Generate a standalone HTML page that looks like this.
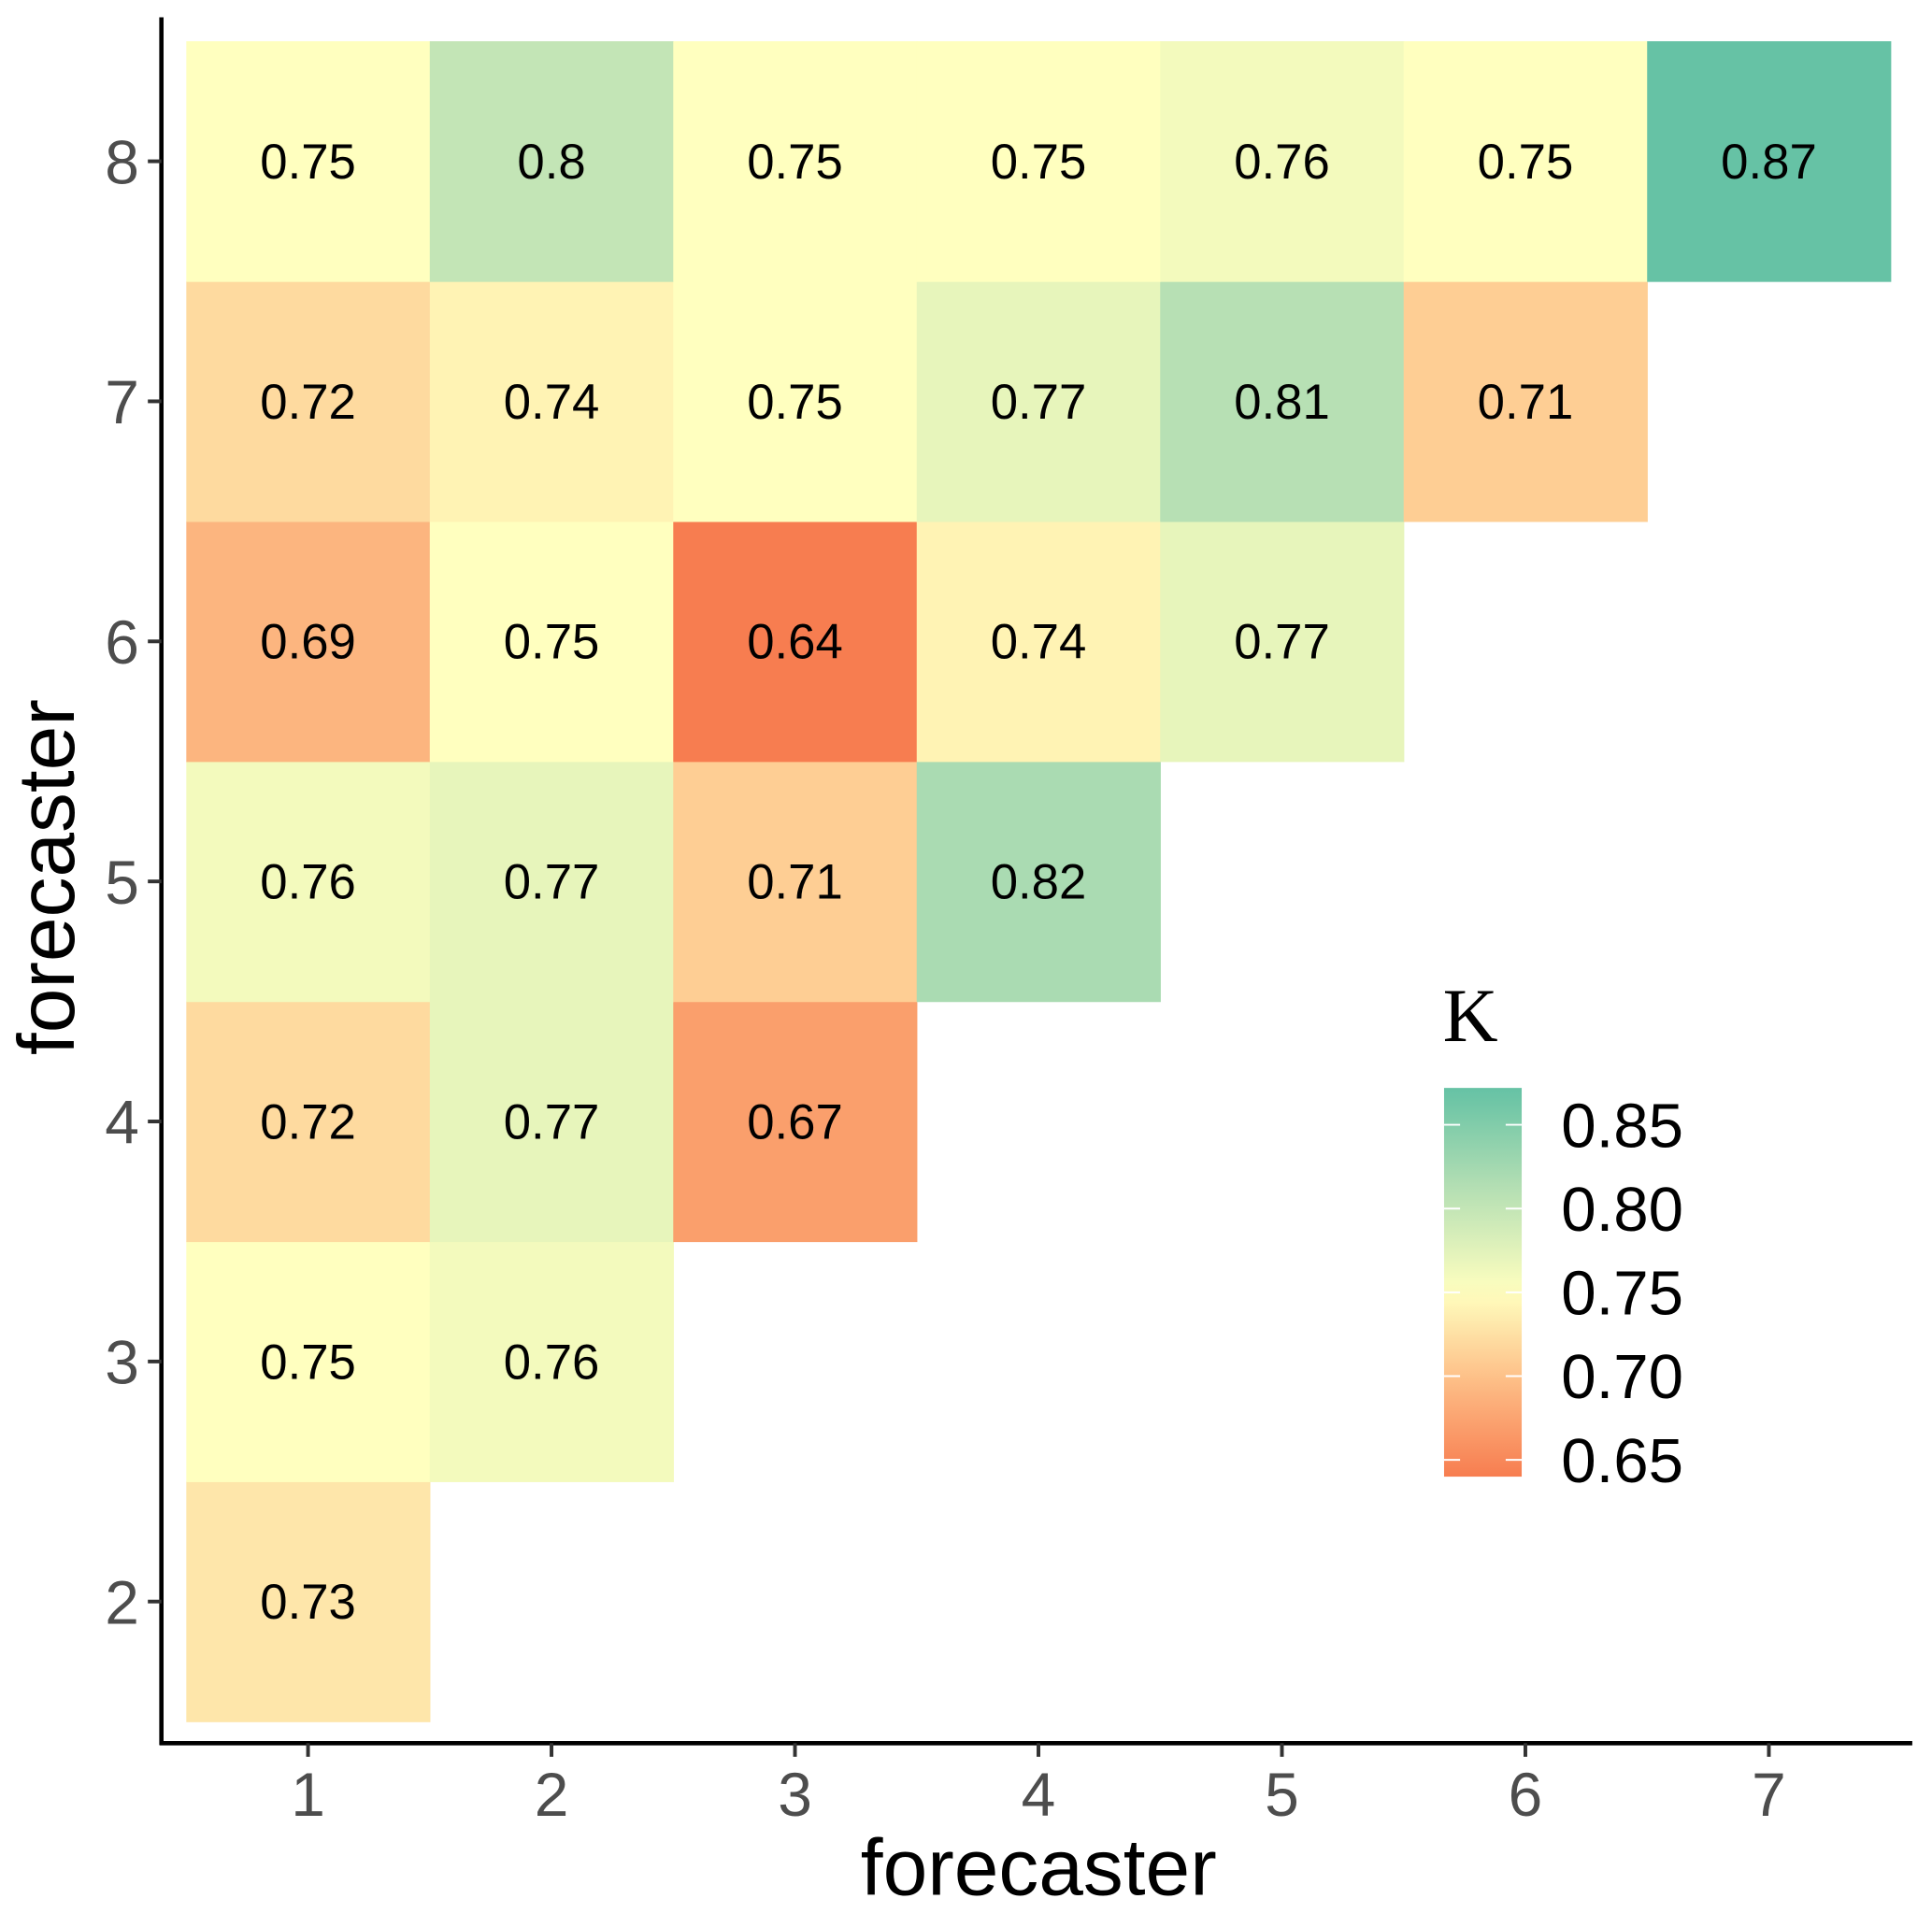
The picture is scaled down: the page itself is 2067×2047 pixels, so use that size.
<!DOCTYPE html>
<html><head><meta charset="utf-8"><style>html,body{margin:0;padding:0;background:#fff}svg{display:block}</style></head>
<body>
<svg id="chart" width="2067" height="2047" viewBox="0 0 1568 1552.8" xmlns="http://www.w3.org/2000/svg" font-family="'Liberation Sans', Arial, sans-serif">
<defs>
<linearGradient id="cbar" x1="0" y1="1" x2="0" y2="0"></linearGradient>
</defs>
<g id="tiles"></g>
<g id="axes"></g>
<g id="legend"></g>
</svg>
<script>
const xCats = [1,2,3,4,5,6,7];
const yCats = [2,3,4,5,6,7,8];
const row8 = [0.75,0.80,0.75,0.75,0.76,0.75,0.87];
const row7 = [0.72,0.74,0.75,0.77,0.81,0.71];
const row6 = [0.69,0.75,0.64,0.74,0.77];
const row5 = [0.76,0.77,0.71,0.82];
const row4 = [0.72,0.77,0.67];
const row3 = [0.75,0.76];
const row2 = [0.73];
const legendTicks = [0.65,0.70,0.75,0.80,0.85];
const legendMin = 0.64, legendMax = 0.872;

const NS="http://www.w3.org/2000/svg";
function mk(tag, attrs, parent){const e=document.createElementNS(NS,tag);for(const k in attrs)e.setAttribute(k,attrs[k]);parent.appendChild(e);return e;}
const xScale = v => 250 + (v-1)*197.6;
const yScale = v => 1300 - (v-2)*194.85;
const cw = 197.6, ch = 194.85;
const stops = [[0.64,[247,125,80]],[0.695,[253,187,132]],[0.75,[255,255,191]],[0.81,[183,224,180]],[0.87,[102,194,165]]];
function color(v){
  if(v<=stops[0][0]) return `rgb(${stops[0][1]})`;
  for(let i=1;i<stops.length;i++){ if(v<=stops[i][0]){const a=stops[i-1],b=stops[i];const t=(v-a[0])/(b[0]-a[0]);return 'rgb('+a[1].map((c,j)=>Math.round(c+(b[1][j]-c)*t)).join(',')+')';}}
  return `rgb(${stops[stops.length-1][1]})`;
}
const rows = {8:row8,7:row7,6:row6,5:row5,4:row4,3:row3,2:row2};
const tg=document.getElementById('tiles');
for(const y of yCats){ rows[y].forEach((v,i)=>{
  const x=xCats[i];
  const r=mk('rect',{x:xScale(x)-cw/2,y:yScale(y)-ch/2,width:cw+0.5,height:ch+0.5,fill:color(v)},tg);
  
  
  const t=mk('text',{x:xScale(x),y:yScale(y)+14,'text-anchor':'middle','font-size':40,fill:'#000'},tg);
  t.textContent=String(v).replace(/^0\.(\d)0$/,'0.$1');
  
  
});}
const ag=document.getElementById('axes');
let l=mk('line',{x1:131,y1:14,x2:131,y2:1416.5,stroke:'#000','stroke-width':3.5},ag);


l=mk('line',{x1:129.5,y1:1415,x2:1552,y2:1415,stroke:'#000','stroke-width':3.5},ag);


for(const x of xCats){
  mk('line',{x1:xScale(x),y1:1415,x2:xScale(x),y2:1426,stroke:'#333','stroke-width':3},ag);
  const t=mk('text',{x:xScale(x),y:1474,'text-anchor':'middle','font-size':50,fill:'#4d4d4d'},ag);
  t.textContent=x;
  
  
}
for(const y of yCats){
  mk('line',{x1:120,y1:yScale(y),x2:131,y2:yScale(y),stroke:'#333','stroke-width':3},ag);
  const t=mk('text',{x:113,y:yScale(y)+18,'text-anchor':'end','font-size':50,fill:'#4d4d4d'},ag);
  t.textContent=y;
  
  
}
let tt=mk('text',{x:843,y:1538,'text-anchor':'middle','font-size':65,fill:'#000'},ag);
tt.textContent='forecaster';


tt=mk('text',{x:0,y:0,'text-anchor':'middle','font-size':65,fill:'#000',transform:'translate(60,712) rotate(-90)'},ag);
tt.textContent='forecaster';


// legend
const lg=document.getElementById('legend');
const ly = v => 1185 - (v-0.65)/0.05*68;
const grad=document.getElementById('cbar');
for(let i=0;i<=20;i++){const v=legendMin+(legendMax-legendMin)*i/20;mk('stop',{offset:(i/20),'stop-color':color(v)},grad);}
let k=mk('text',{x:1171,y:845,'font-size':62,'font-family':"'Liberation Serif', serif",fill:'#000'},lg);
k.textContent='K';


const cb=mk('rect',{x:1172,y:ly(legendMax),width:63,height:ly(legendMin)-ly(legendMax),fill:'url(#cbar)'},lg);


for(const v of legendTicks){
  mk('line',{x1:1172,y1:ly(v),x2:1185,y2:ly(v),stroke:'#fff','stroke-width':1.5},lg);
  mk('line',{x1:1222,y1:ly(v),x2:1235,y2:ly(v),stroke:'#fff','stroke-width':1.5},lg);
  const t=mk('text',{x:1267,y:ly(v)+18,'font-size':51,fill:'#000'},lg);
  t.textContent=v.toFixed(2);
  
  
}
</script>
</body></html>
